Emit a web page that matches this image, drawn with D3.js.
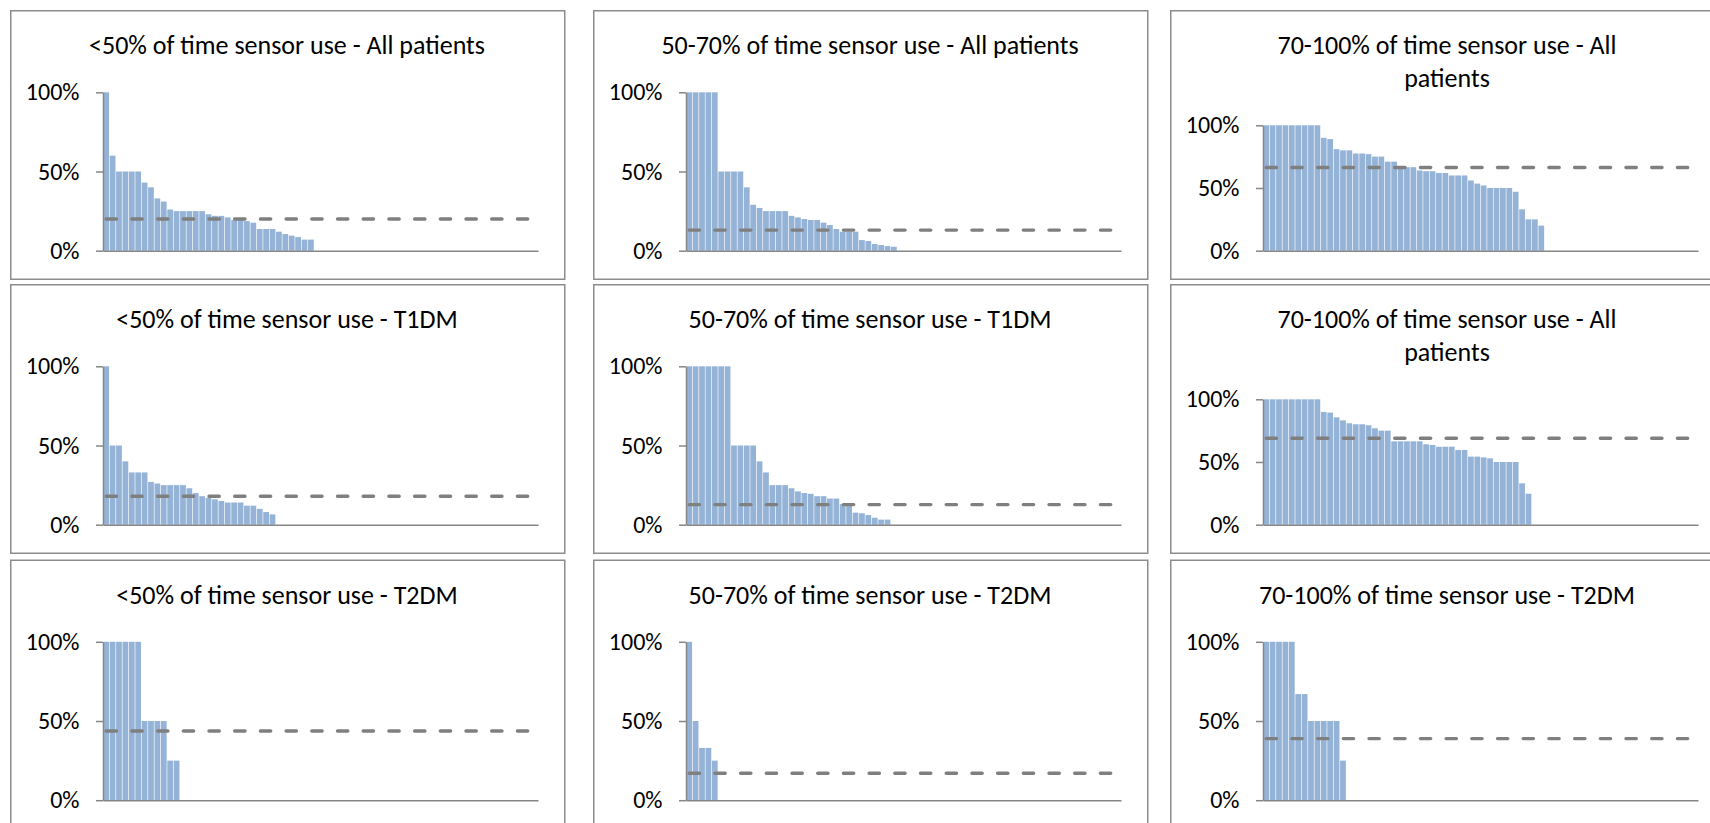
<!DOCTYPE html>
<html><head><meta charset="utf-8">
<script src="https://cdn.jsdelivr.net/npm/d3@7"></script>
<style>html,body{margin:0;padding:0;background:#fff;}svg{display:block}</style>
</head><body>
<svg id="chart" width="1710" height="823"></svg>
<script>
// ---- data ----
const categories = d3.range(1, 69).map(String); // 68 patient slots per x axis
const yTicks = [0, 0.5, 1];
const yTickLabels = ["0%", "50%", "100%"];

const titles = [
  ["<50% of time sensor use - All patients"],
  ["50-70% of time sensor use - All patients"],
  ["70-100% of time sensor use - All", "patients"],
  ["<50% of time sensor use - T1DM"],
  ["50-70% of time sensor use -  T1DM"],
  ["70-100% of time sensor use - All", "patients"],
  ["<50% of time sensor use - T2DM"],
  ["50-70% of time sensor use - T2DM"],
  ["70-100% of time sensor use - T2DM"]
];

const lt50All = [100,60,50,50,50,50,43,40,33,31,26,25,25,25,25,25,23,22,22,21,19.4,19.4,18.7,17.7,13.7,13.7,13.7,12,10.5,9.5,8.6,7,7];
const mid5070All = [100,100,100,100,100,50,50,50,50,40,29,27,25,25,25,25,22,21,20,19.4,19.4,17.7,16.2,13.7,12,12,12,6.7,6.1,4.2,3.6,2.9,2.5];
const hi70100All = [100,100,100,100,100,100,100,100,100,90,89,81,80,80,77.5,77.5,77,75,75,71,71,67,66.6,66.6,64,63.4,63.4,62,62,60,60,60,56,53.5,52,50,50,50,50,47,33,25,25,20];
const lt50T1 = [100,50,50,40,33,33,33,27,26,25,25,25,25,23,20,18,17,16,15,14,14,14,12,12,10,8,6.5];
const mid5070T1 = [100,100,100,100,100,100,100,50,50,50,50,40,33,25,25,25,23,21,20,19.5,18,18,16.5,16.5,13,12,7.6,7.2,6.1,4.4,3.2,3.2];
const hi70100Second = [100,100,100,100,100,100,100,100,100,89.9,89.4,85.6,83.2,80.9,80.1,80.1,79.3,76.9,75,75,66.5,66.5,66.5,66.5,66.5,64.1,63.6,62.2,62.2,62.2,59.6,59.6,54.3,54.3,53.7,52.9,50,50,50,50,33,24.7];
const lt50T2 = [100,100,100,100,100,100,50,50,50,50,25,25];
const mid5070T2 = [100,50,33,33,25];
const hi70100T2 = [100,100,100,100,100,67,67,50,50,50,50,50,25];

const panelValues = [lt50All, mid5070All, hi70100All, lt50T1, mid5070T1, hi70100Second, lt50T2, mid5070T2, hi70100T2];
const meanValues = [20, 13, 66.3, 18, 12.7, 68.9, 43.7, 17, 38.9];

// ---- layout ----
const colLeft = [10, 593, 1170];
const rowTop = [10, 284, 559.5];
const panelW = 554, panelH = 268.5;
const axisOffset = 93, plotW = 435;
const fontFamily = "Carlito, Calibri, Lato, 'Open Sans', sans-serif";

const svg = d3.select("#chart");

panelValues.forEach((vals, i) => {
  const r = Math.floor(i / 3), c = i % 3;
  const g = svg.append("g").attr("transform", `translate(${colLeft[c]},${rowTop[r]})`);

  g.append("rect").attr("x", 0.75).attr("y", 0.75)
    .attr("width", panelW).attr("height", panelH)
    .attr("fill", "#fff").attr("stroke", "#8c8c8c").attr("stroke-width", 1.5);

  const lines = titles[i];
  g.append("text").attr("text-anchor", "middle")
    .attr("font-family", fontFamily).attr("font-size", 26).attr("fill", "#000")
    .selectAll("tspan").data(lines).join("tspan")
    .attr("x", panelW / 2).attr("y", (d, k) => 44 + k * 33).text(d => d);

  const yBottom = 240.7;
  const yTop = lines.length > 1 ? 115.3 : 82.3;
  const y = d3.scaleLinear().domain([0, 1]).range([yBottom, yTop]);
  const x = d3.scaleBand().domain(categories).range([axisOffset, axisOffset + plotW])
    .paddingInner(0.1).paddingOuter(0.05);

  g.append("g").selectAll("rect").data(vals).join("rect")
    .attr("x", (d, j) => x(categories[j]))
    .attr("width", x.bandwidth())
    .attr("y", d => y(d / 100))
    .attr("height", d => y(0) - y(d / 100))
    .attr("fill", "#95b3d7");

  const yAxis = g.append("g").attr("transform", `translate(${axisOffset},0)`)
    .call(d3.axisLeft(y).tickValues(yTicks).tickFormat((d, k) => yTickLabels[k])
      .tickSize(7).tickSizeOuter(0).tickPadding(16.5));
  yAxis.selectAll("path,line").attr("stroke", "#868686").attr("stroke-width", 1.5);
  yAxis.selectAll("text").attr("font-family", fontFamily).attr("font-size", 24).attr("fill", "#000");

  const xAxis = g.append("g").attr("transform", `translate(0,${yBottom})`)
    .call(d3.axisBottom(x).tickValues([]).tickSizeOuter(0));
  xAxis.selectAll("path").attr("stroke", "#868686").attr("stroke-width", 1.5);

  const meanLine = d3.line()
    .x(d => x(d) + x.bandwidth() / 2)
    .y(() => y(meanValues[i] / 100));
  g.append("path").datum(categories).attr("d", meanLine)
    .attr("fill", "none").attr("stroke", "#7f7f7f").attr("stroke-width", 3.4)
    .attr("stroke-linecap", "round").attr("stroke-dasharray", "10.3,15.4");
});
</script>
</body></html>
